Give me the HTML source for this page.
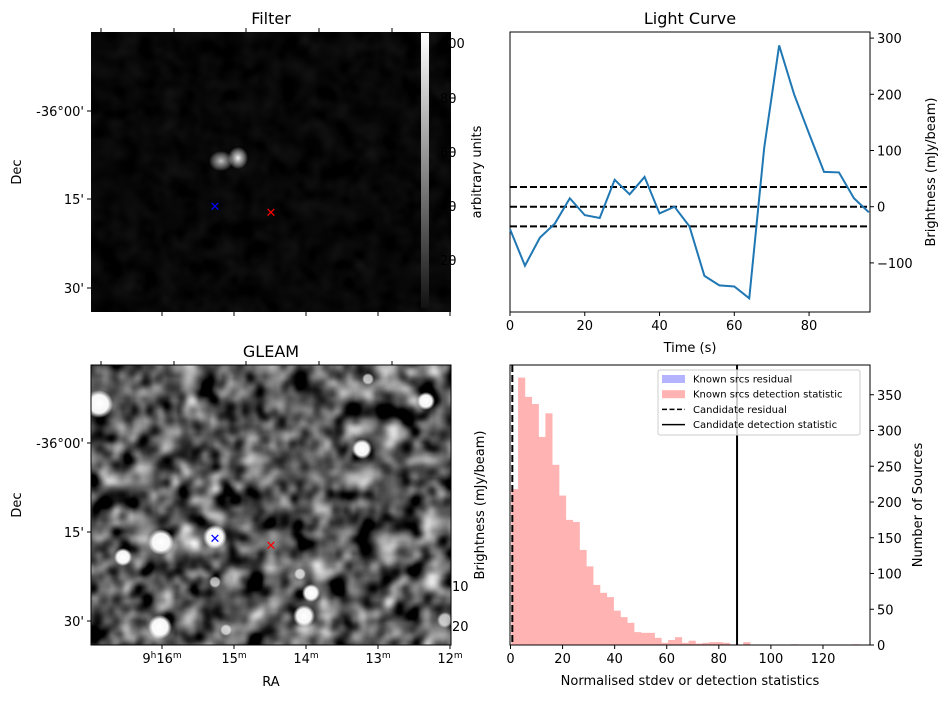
<!DOCTYPE html>
<html><head><meta charset="utf-8"><style>
body{margin:0;background:#fff;}
svg text{font-family:"DejaVu Sans","Liberation Sans",sans-serif;font-size:13px;fill:#000;}
</style></head><body>
<svg id="fig" width="947" height="699" viewBox="0 0 947 699" xmlns="http://www.w3.org/2000/svg">
<defs>
<filter id="noiseF" x="0" y="0" width="100%" height="100%" color-interpolation-filters="sRGB">
<feTurbulence type="fractalNoise" baseFrequency="0.045" numOctaves="2" seed="7"/>
<feColorMatrix type="matrix" values="0.33 0.33 0.33 0 0  0.33 0.33 0.33 0 0  0.33 0.33 0.33 0 0  0 0 0 0 1"/>
<feComponentTransfer><feFuncR type="linear" slope="2.8" intercept="-1.05"/><feFuncG type="linear" slope="2.8" intercept="-1.05"/><feFuncB type="linear" slope="2.8" intercept="-1.05"/></feComponentTransfer>
</filter>
<filter id="noiseD" x="0" y="0" width="100%" height="100%" color-interpolation-filters="sRGB">
<feTurbulence type="fractalNoise" baseFrequency="0.05" numOctaves="2" seed="3"/>
<feColorMatrix type="matrix" values="0.33 0.33 0.33 0 0  0.33 0.33 0.33 0 0  0.33 0.33 0.33 0 0  0 0 0 0 1"/>
<feComponentTransfer><feFuncR type="linear" slope="0.2" intercept="-0.07"/><feFuncG type="linear" slope="0.2" intercept="-0.07"/><feFuncB type="linear" slope="0.2" intercept="-0.07"/></feComponentTransfer>
</filter>
<radialGradient id="blob"><stop offset="0" stop-color="#fff" stop-opacity="1"/><stop offset="0.65" stop-color="#fff" stop-opacity="0.95"/><stop offset="1" stop-color="#fff" stop-opacity="0"/></radialGradient>
<radialGradient id="blobF"><stop offset="0" stop-color="#fff" stop-opacity="0.95"/><stop offset="0.5" stop-color="#ddd" stop-opacity="0.6"/><stop offset="1" stop-color="#fff" stop-opacity="0"/></radialGradient>
<linearGradient id="cbar" x1="0" y1="0" x2="0" y2="1"><stop offset="0" stop-color="#fff"/><stop offset="1" stop-color="#111"/></linearGradient>
<clipPath id="clipG"><rect x="91" y="365" width="360" height="280"/></clipPath>
</defs>

<g>
<text x="271" y="24" text-anchor="middle" style="font-size:16px">Filter</text>
<rect x="91" y="32" width="360" height="280" fill="#000"/>
<rect x="91" y="32" width="360" height="280" filter="url(#noiseD)"/>
<ellipse cx="221" cy="161" rx="12" ry="10" fill="url(#blobF)" opacity="0.8"/>
<ellipse cx="238" cy="158" rx="10" ry="11" fill="url(#blobF)"/>
<rect x="421" y="33" width="8" height="275" fill="url(#cbar)"/>
<g id="filterTicks"></g>
<text x="440" y="48" style="fill:#000">100</text>
<text transform="translate(481,172) rotate(-90)" text-anchor="middle">arbitrary units</text>
<text transform="translate(21,172) rotate(-90)" text-anchor="middle">Dec</text>
<text x="215" y="211" text-anchor="middle" style="fill:#00f;font-size:13px">✕</text>
<text x="271" y="217" text-anchor="middle" style="fill:#f00;font-size:13px">✕</text>
</g>

<g>
<text x="271" y="357" text-anchor="middle" style="font-size:16px">GLEAM</text>
<rect x="91" y="365" width="360" height="280" fill="#444"/>
<g clip-path="url(#clipG)">
<rect x="91" y="365" width="360" height="280" filter="url(#noiseF)"/>
<circle cx="99" cy="404" r="14" fill="url(#blob)"/>
<circle cx="161" cy="542" r="13" fill="url(#blob)"/>
<circle cx="215" cy="537" r="12" fill="url(#blob)"/>
<circle cx="123" cy="557" r="9" fill="url(#blob)"/>
<circle cx="160" cy="627" r="12" fill="url(#blob)"/>
<circle cx="304" cy="616" r="11" fill="url(#blob)"/>
<circle cx="311" cy="593" r="9" fill="url(#blob)"/>
<circle cx="362" cy="449" r="10" fill="url(#blob)"/>
<circle cx="426" cy="401" r="9" fill="url(#blob)"/>
<circle cx="368" cy="379" r="6" fill="url(#blob)" opacity="0.7"/>
<circle cx="215" cy="582" r="6" fill="url(#blob)" opacity="0.7"/>
<circle cx="300" cy="574" r="6" fill="url(#blob)" opacity="0.7"/>
<circle cx="226" cy="630" r="6" fill="url(#blob)" opacity="0.7"/>
<circle cx="445" cy="620" r="8" fill="url(#blob)" opacity="0.7"/>
</g>
<rect x="91" y="365" width="360" height="280" fill="none" stroke="#000" stroke-width="1"/>
<g id="gleamTicks"></g>
<text x="452" y="591" style="fill:#000">10</text>
<text x="452" y="631" style="fill:#000">20</text>
<text transform="translate(484,505) rotate(-90)" text-anchor="middle">Brightness (mJy/beam)</text>
<text transform="translate(21,505) rotate(-90)" text-anchor="middle">Dec</text>
<text x="271" y="686" text-anchor="middle">RA</text>
<text x="215" y="543" text-anchor="middle" style="fill:#00f;font-size:13px">✕</text>
<text x="271" y="550" text-anchor="middle" style="fill:#f00;font-size:13px">✕</text>
</g>

<g id="lc">
<text x="690" y="24" text-anchor="middle" style="font-size:16px">Light Curve</text>
</g>
<g id="hist"></g>
</svg>
<script>
// Light curve data
const lcTimes = [0,4,8,12,16,20,24,28,32,36,40,44,48,52,56,60,64,68,72,76,80,84,88,92,96];
const lcValues = [-40,-105,-55,-30,15,-15,-20,48,22,53,-12,0,-35,-123,-140,-142,-163,105,287,200,130,62,61,15,-10];
const lcThresholds = [-35,0,35];
const lcXTicks = [0,20,40,60,80];
const lcYTicks = [-100,0,100,200,300];
// Histogram data
const histStart = 0.3;
const histBinWidth = 2.62;
const histCounts = [218,374,347,337,291,324,252,209,175,172,133,110,84,73,67,48,39,31,18,17,17,10,3,7,11,3,6,2,3,4,4,3,1,0,4,0,0,0,0,0,0,1,0,0,0,0,0,0,0,0,1];
const candidateResidual = 0.7;
const candidateDetection = 87;
const histXTicks = [0,20,40,60,80,100,120];
const histYTicks = [0,50,100,150,200,250,300,350];
// Sky image axis ticks
const raTicks = ["9h16m","15m","14m","13m","12m"];
const decTicks = ["-36°00'","15'","30'"];
const cbarTicks = ["80","60","40","20"];

const NS='http://www.w3.org/2000/svg';
function mk(tag,attrs,parent,txt){const e=document.createElementNS(NS,tag);for(const k in attrs)e.setAttribute(k,attrs[k]);if(txt!==undefined)e.textContent=txt;parent.appendChild(e);return e;}

(function(){
const g=document.getElementById('lc');
const L=510,R=870,T=32,B=312;
const x=t=>L+(t-0)*(R-L)/96.3;
const y=v=>206.7-v*0.562;
mk('rect',{x:L,y:T,width:R-L,height:B-T,fill:'#fff',stroke:'#000','stroke-width':1},g);
lcThresholds.forEach(v=>{const l=mk('line',{x1:L,x2:R,y1:y(v),y2:y(v),stroke:'#000','stroke-width':2,'stroke-dasharray':'7,3'},g);

});
const p=mk('polyline',{points:lcTimes.map((t,i)=>x(t)+','+y(lcValues[i])).join(' '),fill:'none',stroke:'#1f77b4','stroke-width':2},g);


lcXTicks.forEach(t=>{mk('line',{x1:x(t),x2:x(t),y1:B,y2:B+4,stroke:'#000'},g);const tx=mk('text',{x:x(t),y:B+18,'text-anchor':'middle'},g,String(t));

});
lcYTicks.forEach(v=>{mk('line',{x1:R,x2:R+4,y1:y(v),y2:y(v),stroke:'#000'},g);const tx=mk('text',{x:R+7,y:y(v)+5},g,String(v).replace('-','\u2212'));

});
const xl=mk('text',{x:690,y:352,'text-anchor':'middle'},g,'Time (s)');


const yl=mk('text',{transform:'translate(935,172) rotate(-90)','text-anchor':'middle'},g,'Brightness (mJy/beam)');


})();

(function(){
const g=document.getElementById('hist');
const L=510,R=870,T=365,B=645;
const x=v=>510.5+v*2.604;
const y=c=>645-c*0.715;
mk('rect',{x:L,y:T,width:R-L,height:B-T,fill:'#fff'},g);
histCounts.forEach((c,i)=>{if(!c)return;const x0=x(histStart+i*histBinWidth),x1=x(histStart+(i+1)*histBinWidth);
const r=mk('rect',{x:x0,y:y(c),width:x1-x0+0.3,height:B-y(c),fill:'#ffb3b3'},g);

});
const d1=mk('line',{x1:x(candidateResidual),x2:x(candidateResidual),y1:T,y2:B,stroke:'#000','stroke-width':2,'stroke-dasharray':'7,3'},g);


const d2=mk('line',{x1:x(candidateDetection),x2:x(candidateDetection),y1:T,y2:B,stroke:'#000','stroke-width':2},g);


mk('rect',{x:L,y:T,width:R-L,height:B-T,fill:'none',stroke:'#000','stroke-width':1},g);
histXTicks.forEach(t=>{mk('line',{x1:x(t),x2:x(t),y1:B,y2:B+4,stroke:'#000'},g);const tx=mk('text',{x:x(t),y:B+18,'text-anchor':'middle'},g,String(t));

});
histYTicks.forEach(v=>{mk('line',{x1:R,x2:R+4,y1:y(v),y2:y(v),stroke:'#000'},g);const tx=mk('text',{x:R+7,y:y(v)+5},g,String(v));

});
const xl=mk('text',{x:690,y:685,'text-anchor':'middle'},g,'Normalised stdev or detection statistics');


const yl=mk('text',{transform:'translate(922,505) rotate(-90)','text-anchor':'middle'},g,'Number of Sources');


const lg=mk('g',{},g);


mk('rect',{x:658,y:370,width:202,height:65,fill:'#fff','fill-opacity':0.8,stroke:'#ccc',rx:2},lg);
const items=[['Known srcs residual','b'],['Known srcs detection statistic','r'],['Candidate residual','d'],['Candidate detection statistic','s']];
items.forEach((it,i)=>{const yy=379+i*15.2;
if(it[1]==='b')mk('rect',{x:662,y:yy-4,width:23,height:8,fill:'#b3b3ff'},lg);
if(it[1]==='r')mk('rect',{x:662,y:yy-4,width:23,height:8,fill:'#ffb3b3'},lg);
if(it[1]==='d')mk('line',{x1:662,x2:685,y1:yy,y2:yy,stroke:'#000','stroke-width':1.5,'stroke-dasharray':'5,2.5'},lg);
if(it[1]==='s')mk('line',{x1:662,x2:685,y1:yy,y2:yy,stroke:'#000','stroke-width':1.5},lg);
const t=mk('text',{x:693,y:yy+3.5,style:'font-size:10px'},lg,it[0]);

});
})();

(function(){
const f=document.getElementById('filterTicks'), gl=document.getElementById('gleamTicks');
const topX=[101,174,246,319,392], botX=[162,234,306,378,450];
function ticks(g,T,B,decY,labels){
topX.forEach(x=>mk('line',{x1:x,x2:x,y1:T,y2:T-4,stroke:'#000'},g));
botX.forEach(x=>mk('line',{x1:x,x2:x,y1:B,y2:B+4,stroke:'#000'},g));
decY.forEach((y,i)=>{mk('line',{x1:91,x2:87,y1:y,y2:y,stroke:'#000'},g);const t=mk('text',{x:84,y:y+5,'text-anchor':'end'},g,decTicks[i]);

});
if(labels){botX.forEach((x,i)=>{const s=raTicks[i];const t=mk('text',{x:x,y:B+18,'text-anchor':'middle'},g);
if(s.startsWith('9h')){mk('tspan',{},t,'9');mk('tspan',{dy:-5,style:'font-size:9px'},t,'h');mk('tspan',{dy:5},t,'16');mk('tspan',{dy:-5,style:'font-size:9px'},t,'m');}
else{mk('tspan',{},t,s.replace('m',''));mk('tspan',{dy:-5,style:'font-size:9px'},t,'m');}

});}
}
ticks(f,32,312,[111,199,288],false);
ticks(gl,365,645,[443,532,621],true);
[98,152,206,260].forEach((y,i)=>{mk('line',{x1:451,x2:455,y1:y,y2:y,stroke:'#000'},f);mk('text',{x:440,y:y+5},f,cbarTicks[i]);});
})();
</script>
</body></html>
